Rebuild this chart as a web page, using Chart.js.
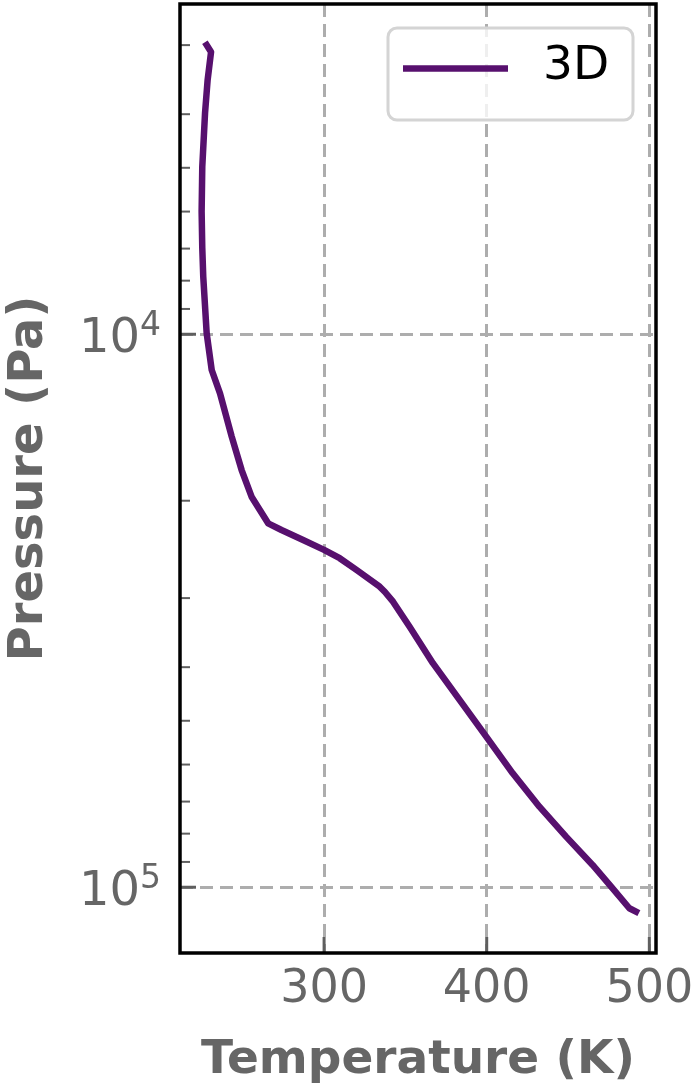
<!DOCTYPE html>
<html>
<head>
<meta charset="utf-8">
<script src="https://cdn.jsdelivr.net/npm/chart.js@4.4.1/dist/chart.umd.min.js"></script>
<style>
  html, body { margin: 0; padding: 0; background: #fff; }
  #wrap { width: 696px; height: 1085px; }
</style>
</head>
<body>
<div id="wrap"><canvas id="profile" width="696" height="1085"></canvas></div>
<script>
// Temperature / pressure profile
const SERIES_LABEL = "3D";

const temperature = [
  227.8, 230.5, 228.4, 226.8, 225.1, 224.7, 225.1, 225.7, 227.8, 230.9,
  236.0, 243.2, 249.3, 255.4, 260.5, 265.6, 273.8, 287.1, 300.0, 309.6,
  319.9, 334.2, 337.3, 342.4, 352.6, 366.9, 383.3, 399.7, 416.0, 432.4,
  448.8, 465.1, 476.5, 487.7, 491.8,
];

const pressure = [
  3000, 3087, 3467, 3980, 4976, 6001, 6982, 7866, 9958, 11605,
  12788, 15315, 17600, 19666, 20784, 21972, 22594, 23550, 24547, 25410,
  26670, 28610, 29220, 30450, 33800, 39340, 45840, 53430, 62220, 71500,
  81000, 91140, 99750, 109140, 110700,
];

// Axis ticks
const X_TICKS = [300, 400, 500];
const Y_MAJOR_TICKS = [1e4, 1e5];
const Y_MINOR_TICKS = [
  3000, 4000, 5000, 6000, 7000, 8000, 9000,
  20000, 30000, 40000, 50000, 60000, 70000, 80000, 90000,
];

const X_RANGE = [211.4, 504.1];
const Y_RANGE = [2528, 131500];

// Styling
const LINE_COLOR = "#57106e";
const TEXT_GREY = "#666666";
const GRID_GREY = "#adadad";
const TICK_GREY = "#5f5f5f";
const FONT = "'DejaVu Sans', 'Liberation Sans', sans-serif";

function strokeLine(ctx, x1, y1, x2, y2, width) {
  ctx.lineWidth = width;
  ctx.beginPath();
  ctx.moveTo(x1, y1);
  ctx.lineTo(x2, y2);
  ctx.stroke();
}

function roundRect(ctx, x, y, w, h, r) {
  ctx.beginPath();
  ctx.moveTo(x + r, y);
  ctx.arcTo(x + w, y, x + w, y + h, r);
  ctx.arcTo(x + w, y + h, x, y + h, r);
  ctx.arcTo(x, y + h, x, y, r);
  ctx.arcTo(x, y, x + w, y, r);
  ctx.closePath();
}

// frame, inward ticks, log labels and the in-plot legend
const decorations = {
  id: "decorations",
  afterDatasetsDraw(chart) {
    const { ctx, chartArea: a, scales } = chart;
    ctx.save();

    // inward tick marks
    ctx.strokeStyle = TICK_GREY;
    ctx.lineCap = "butt";
    Y_MINOR_TICKS.forEach((v) => {
      const y = scales.y.getPixelForValue(v);
      strokeLine(ctx, a.left, y, a.left + 10, y, 2);
    });
    Y_MAJOR_TICKS.forEach((v) => {
      const y = scales.y.getPixelForValue(v);
      strokeLine(ctx, a.left, y, a.left + 16, y, 3);
    });
    X_TICKS.forEach((v) => {
      const x = scales.x.getPixelForValue(v);
      strokeLine(ctx, x, a.bottom, x, a.bottom - 16, 3);
    });

    // 10^n labels
    ctx.fillStyle = TEXT_GREY;
    ctx.textBaseline = "alphabetic";
    Y_MAJOR_TICKS.forEach((v) => {
      const y = scales.y.getPixelForValue(v);
      const exp = String(Math.round(Math.log10(v)));
      ctx.font = `33px ${FONT}`;
      ctx.textAlign = "right";
      const expW = ctx.measureText(exp).width;
      const right = a.left - 19;
      ctx.fillText(exp, right, y + 1);
      ctx.font = `48px ${FONT}`;
      ctx.fillText("10", right - expW, y + 18);
    });

    // legend
    const lx = 388, ly = 28, lw = 245, lh = 92;
    roundRect(ctx, lx, ly, lw, lh, 9);
    ctx.fillStyle = "rgba(255,255,255,0.8)";
    ctx.fill();
    ctx.strokeStyle = "#d4d4d4";
    ctx.lineWidth = 3;
    ctx.stroke();
    ctx.strokeStyle = LINE_COLOR;
    strokeLine(ctx, 403, 68.5, 508, 68.5, 6.5);
    ctx.fillStyle = "#000";
    ctx.font = `47px ${FONT}`;
    ctx.textAlign = "left";
    ctx.textBaseline = "middle";
    ctx.fillText(chart.data.datasets[0].label, 543, 67);

    // frame
    ctx.strokeStyle = "#000";
    ctx.lineWidth = 3.5;
    ctx.strokeRect(a.left, a.top, a.right - a.left, a.bottom - a.top);

    ctx.restore();
  },
};

const points = temperature.map((t, i) => ({ x: t, y: pressure[i] }));

new Chart(document.getElementById("profile"), {
  type: "line",
  data: {
    datasets: [
      {
        label: SERIES_LABEL,
        data: points,
        borderColor: LINE_COLOR,
        borderWidth: 6.5,
        borderCapStyle: "square",
        borderJoinStyle: "round",
        pointRadius: 0,
        tension: 0,
        fill: false,
      },
    ],
  },
  options: {
    responsive: false,
    animation: false,
    devicePixelRatio: 1,
    layout: { padding: { top: 4, right: 40, left: 0, bottom: 0 } },
    plugins: {
      legend: { display: false },
      tooltip: { enabled: false },
    },
    scales: {
      x: {
        type: "linear",
        min: X_RANGE[0],
        max: X_RANGE[1],
        afterBuildTicks: (scale) => {
          scale.ticks = X_TICKS.map((value) => ({ value }));
        },
        afterFit: (scale) => {
          scale.height = 132;
          scale.paddingLeft = 0;
          scale.paddingRight = 0;
        },
        grid: { color: GRID_GREY, lineWidth: 3, drawTicks: false },
        border: { display: false, dash: [13, 7] },
        ticks: {
          color: TEXT_GREY,
          padding: 9,
          maxRotation: 0,
          font: { family: FONT, size: 46 },
        },
        title: {
          display: true,
          text: "Temperature (K)",
          color: TEXT_GREY,
          padding: 0,
          font: { family: FONT, size: 47, weight: "bold", lineHeight: 1.05 },
        },
      },
      y: {
        type: "logarithmic",
        reverse: true,
        min: Y_RANGE[0],
        max: Y_RANGE[1],
        afterBuildTicks: (scale) => {
          scale.ticks = Y_MAJOR_TICKS.map((value) => ({ value, major: true }));
        },
        afterFit: (scale) => {
          scale.width = 180;
          scale.paddingTop = 0;
          scale.paddingBottom = 0;
        },
        grid: { color: GRID_GREY, lineWidth: 3, drawTicks: false },
        border: { display: false, dash: [13, 7] },
        ticks: { display: false },
        title: {
          display: true,
          text: "Pressure (Pa)",
          color: TEXT_GREY,
          padding: 0,
          font: { family: FONT, size: 48, weight: "bold", lineHeight: 1.25 },
        },
      },
    },
  },
  plugins: [decorations],
});
</script>
</body>
</html>
